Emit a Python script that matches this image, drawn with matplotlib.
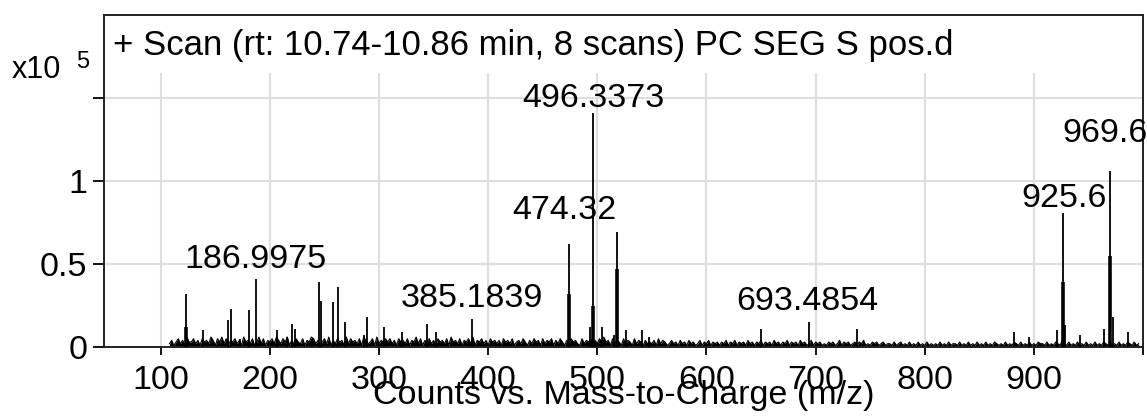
"Mass spectrum: counts vs. mass-to-charge, PC SEG S pos."
import numpy as np
import matplotlib.pyplot as plt

plt.rcParams['font.family'] = ['Liberation Sans', 'DejaVu Sans']

# centroid peaks (m/z, counts x10^5)
peak_mz = [123.5, 139, 161.7, 164.5, 172.4, 180.6, 187, 206.5, 215.4, 220.6,
           223, 238.6, 244.7, 246.9, 257.9, 262.7, 268.9, 286, 289.3, 304.6,
           320.8, 344.2, 352.5, 385.2, 474.4, 493.3, 496.4, 504.6, 515.6, 518.4,
           526, 540.7, 547.6, 649.7, 693.7, 737.7, 882, 895.2, 921.2, 926.4,
           928.2, 942.2, 964.5, 970, 972.2, 986]
peak_int = [0.32, 0.10, 0.16, 0.23, 0.05, 0.22, 0.41, 0.10, 0.06, 0.14,
            0.11, 0.05, 0.39, 0.28, 0.27, 0.36, 0.15, 0.07, 0.18, 0.12,
            0.09, 0.14, 0.09, 0.17, 0.62, 0.12, 1.41, 0.12, 0.07, 0.69,
            0.10, 0.10, 0.06, 0.11, 0.15, 0.11, 0.09, 0.06, 0.10, 0.81,
            0.13, 0.07, 0.11, 1.06, 0.18, 0.09]

# broader lower part of the profile peaks
shoulder_mz = [123.5, 474.4, 496.4, 518.4, 926.4, 970]
shoulder_int = [0.12, 0.32, 0.25, 0.47, 0.39, 0.55]

# baseline noise: one digit per 2 m/z starting at 108, in 0.01 x10^5 units
noise_digits = (
    "2413524163" "3524153426" "4153625143" "5241634251" "3625143526"
    "4253614253" "2514365241" "3526142534" "1625342516" "4235162435"
    "3524153425" "1436251435" "2415342516" "3425143526" "1435241534"
    "2415342513" "4253142534" "1524351425" "3142534215" "2435142536"
    "3415243152" "4315243142" "3241524312" "4231423142" "3124132413"
    "2313241324" "1323142313" "2413231423" "1324132314" "2312413231"
    "2132312413" "2312313241" "2132312312" "2131231213" "1213121312"
    "1213121312" "2131213121" "3121312132" "1213121321" "3121312132"
    "2131213214" "2131213121" "3121312132" "1312131213" "21312"
)
noise_start = 108
noise_step = 2

label_text = ["186.9975", "385.1839", "496.3373", "474.32", "693.4854",
              "925.6", "969.6"]
label_mz = [187, 384.7, 496.3, 469.5, 692, 928, 965.6]
label_base = [0.476, 0.243, 1.447, 0.769, 0.223, 0.845, 1.237]

title = "+ Scan (rt: 10.74-10.86 min, 8 scans) PC SEG S pos.d"

noise_mz = noise_start + noise_step * np.arange(len(noise_digits))
noise = np.array([int(c) for c in noise_digits]) * 0.01

fs = 24.5

fig = plt.figure(figsize=(11.47, 4.16), dpi=100)
ax = fig.add_axes([104 / 1147, 69 / 416, 1039 / 1147, 332 / 416])
ax.set_xlim(48, 1000)
ax.set_ylim(0, 2.0)

# grid
ax.hlines([0.5, 1, 1.5], 48, 1000, color='#dedede', lw=1.5, zorder=0)
ax.vlines(range(100, 1000, 100), 0, 1.65, color='#dedede', lw=1.5, zorder=0)

# spectrum
ax.fill_between(noise_mz, 0, noise, color='black', lw=0, zorder=2)
ax.plot(noise_mz, noise, color='black', lw=0.8, zorder=2)
ax.vlines(peak_mz, 0, peak_int, color='black', lw=1.3, zorder=3)
ax.vlines(shoulder_mz, 0, shoulder_int, color='black', lw=2.6, zorder=3)

for t, x, y in zip(label_text, label_mz, label_base):
    ax.text(x, y, t, ha='center', va='baseline', fontsize=fs, clip_on=False,
            zorder=4)

ax.text(0.0087, 0.8795, title, transform=ax.transAxes, fontsize=25,
        va='baseline', ha='left')

ax.set_xticks(range(100, 1001, 100))
ax.set_xticklabels([str(v) for v in range(100, 1000, 100)] + [''])
ax.set_yticks([0, 0.5, 1, 1.5])
ax.set_yticklabels(['0', '0.5', '1', ''])
ax.tick_params(axis='x', labelsize=fs, length=6, width=1.3, pad=7)
ax.tick_params(axis='y', labelsize=fs, length=8, width=1.3, pad=4)
for s in ax.spines.values():
    s.set_linewidth(1.4)
    s.set_color('#222222')

ax.set_xlabel("Counts vs. Mass-to-Charge (m/z)", fontsize=fs)
ax.xaxis.set_label_coords(0.5, -0.1)

fig.text(12 / 1147, (416 - 78) / 416, "x10", fontsize=22, va='baseline')
fig.text(76 / 1147, (416 - 68) / 416, "5", fontsize=17, va='baseline')

fig.savefig("out.png", dpi=100)
